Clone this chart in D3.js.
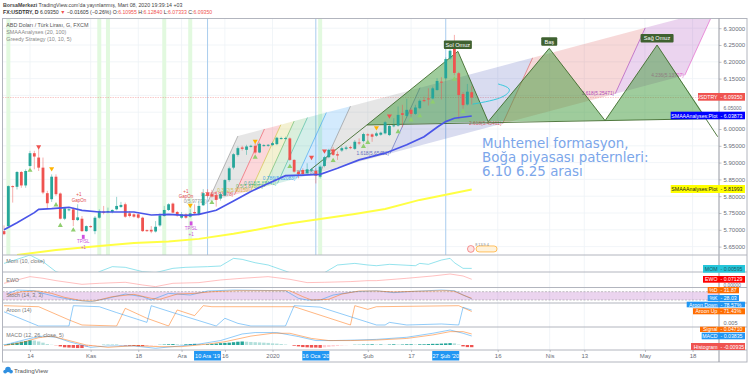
<!DOCTYPE html>
<html>
<head>
<meta charset="utf-8">
<script src="https://cdn.jsdelivr.net/npm/d3@7"></script>
<style>
  html, body { margin: 0; padding: 0; background: #fff; }
  svg { display: block; font-family: "Liberation Sans", sans-serif; }
</style>
</head>
<body>
<div id="chart"></div>
<script>
// Candles, one per trading day
const opens = [5.696,5.711,5.830,5.828,5.872,5.832,5.890,5.928,5.915,5.885,5.809,5.791,5.858,5.808,5.733,5.758,5.761,5.729,5.733,5.696,5.711,5.696,5.736,5.754,5.753,5.753,5.761,5.768,5.776,5.749,5.746,5.746,5.736,5.699,5.700,5.695,5.713,5.741,5.759,5.778,5.753,5.736,5.746,5.739,5.753,5.746,5.773,5.811,5.806,5.803,5.793,5.802,5.848,5.885,5.923,5.945,5.938,5.948,5.950,5.930,5.950,5.950,5.952,5.955,5.971,5.971,5.972,5.908,5.873,5.878,5.868,5.876,5.875,5.858,5.890,5.916,5.938,5.925,5.936,5.941,5.946,5.941,5.960,5.964,5.984,5.984,5.980,5.983,5.987,5.982,6.009,6.010,6.047,6.039,6.057,6.045,6.062,6.086,6.091,6.091,6.116,6.141,6.151,6.210,6.256,6.166,6.104,6.073,6.10955];
const closes = [5.687,5.830,5.828,5.872,5.832,5.875,5.928,5.918,5.885,5.811,5.779,5.858,5.806,5.733,5.764,5.761,5.729,5.737,5.696,5.711,5.708,5.736,5.756,5.751,5.756,5.759,5.771,5.774,5.739,5.741,5.739,5.736,5.696,5.696,5.695,5.709,5.743,5.759,5.776,5.751,5.743,5.746,5.736,5.749,5.749,5.771,5.809,5.801,5.799,5.789,5.806,5.848,5.883,5.925,5.943,5.941,5.948,5.950,5.930,5.956,5.952,5.953,5.958,5.974,5.973,5.973,5.908,5.873,5.866,5.866,5.880,5.880,5.861,5.888,5.916,5.938,5.923,5.921,5.943,5.945,5.943,5.962,5.957,5.985,5.981,5.977,5.987,5.989,6.020,6.009,6.011,6.042,6.042,6.057,6.045,6.064,6.084,6.083,6.089,6.121,6.143,6.139,6.208,6.233,6.167,6.101,6.071,6.111,6.0935];
const highs = [5.713,5.832,5.832,5.875,5.875,5.880,5.935,5.935,5.940,5.915,5.816,5.865,5.865,5.811,5.768,5.766,5.766,5.776,5.741,5.713,5.713,5.741,5.761,5.771,5.766,5.761,5.798,5.783,5.781,5.756,5.749,5.749,5.739,5.701,5.711,5.726,5.749,5.771,5.779,5.781,5.756,5.753,5.749,5.761,5.776,5.786,5.821,5.821,5.819,5.815,5.812,5.851,5.888,5.928,5.948,5.950,5.953,5.953,5.958,5.960,5.955,5.955,5.962,5.977,5.977,5.977,5.975,5.910,5.878,5.883,5.898,5.883,5.883,5.892,5.920,5.941,5.946,5.933,5.948,5.950,5.950,5.967,5.972,5.989,5.987,5.987,5.992,5.992,6.024,6.012,6.032,6.067,6.072,6.090,6.062,6.072,6.088,6.096,6.121,6.126,6.151,6.154,6.213,6.237,6.280,6.170,6.110,6.134,6.1284];
const lows = [5.684,5.706,5.781,5.820,5.825,5.825,5.885,5.880,5.875,5.806,5.763,5.783,5.801,5.731,5.729,5.755,5.711,5.726,5.694,5.694,5.706,5.687,5.733,5.746,5.749,5.749,5.758,5.765,5.736,5.737,5.736,5.733,5.694,5.694,5.690,5.692,5.709,5.739,5.756,5.749,5.739,5.733,5.733,5.736,5.746,5.743,5.771,5.796,5.796,5.769,5.787,5.800,5.843,5.880,5.918,5.936,5.923,5.945,5.926,5.928,5.948,5.947,5.949,5.952,5.969,5.969,5.905,5.870,5.853,5.863,5.863,5.873,5.838,5.853,5.886,5.913,5.920,5.908,5.932,5.937,5.940,5.938,5.953,5.960,5.967,5.962,5.977,5.980,5.984,5.979,6.005,6.007,6.005,6.035,6.037,6.042,6.059,6.080,6.070,6.088,6.114,6.088,6.148,6.206,6.160,6.030,6.060,6.070,6.07333];

// Moving averages, read at these bars
const smaFastBars = [0,3,7,8,11,15,18,22,26,30,34,38,42,45,49,53,57,61,65,69,73,77,82,88,93,97,100,102,104,108];
const smaFastVals = [5.700,5.721,5.751,5.761,5.763,5.767,5.758,5.753,5.753,5.753,5.744,5.746,5.743,5.746,5.758,5.786,5.814,5.838,5.861,5.863,5.865,5.883,5.908,5.928,5.953,5.977,6.005,6.022,6.032,6.03873];
const smaSlowBars = [3,12,17,22,30,38,45,53,57,65,73,81,88,96,108];
const smaSlowVals = [5.625,5.640,5.646,5.652,5.661,5.665,5.673,5.688,5.697,5.717,5.732,5.747,5.762,5.789,5.81993];

// Strategy markers
const upBars = [6,12,13,16,48,58,66,76,83,84,91,94,96,99,104,106];
const upPrices = [5.877,5.774,5.713,5.699,5.781,5.916,5.888,5.906,5.948,5.960,5.992,6.027,6.039,6.080,6.148,6.052];
const yellowBars = [11,43,58,86];
const yellowPrices = [5.882,5.773,5.964,6.004];
const redBars = [8,71,74,76,89];
const redPrices = [5.947,5.916,5.935,5.935,6.039];
const tagBars = [17.3,17.3,42,42,18.3,18.3,43.2,43.2];
const tagPrices = [5.786,5.804,5.798,5.815,5.664,5.646,5.704,5.687];
const tagTexts = ["GapOn","+1","GapOn","+1","TP/SL","+1","TP/SL","+1"];
const exitBars = [18.3,43.2];
const exitPrices = [5.679,5.719];

// Highlighted days
const greenBars = [1,22,24,37,43,73];
const selectedBars = [47,72,102];
const selectedLabels = ["10 Ara '19","16 Oca '20","27 Şub '20"];

// Fib channel drawing, anchored on bar / price
const fibStart = [54, 5.979];
const fibEnd = [80, 6.068];
const fibShift = [-6.93, -0.196];
const fibLevels = [0,0.236,0.382,0.5,0.618,0.786,1,1.618,2.618,3.618,4.236];
const fibPrices = ["5.97796","5.93078","5.90159","5.87800","5.85441","5.82083","5.77805","5.65451","5.45461","5.25471","5.13707"];
const fibColors = ["#808080","#f23645","#c9b81e","#4caf50","#26b08f","#2196f3","#808080","#3f51b5","#d84343","#9c27b0","#e040c0"];

// Head and shoulders drawing
const hsBars = [70.7,83.8,104.8,111.8,125.9,138.8,150.8,164.8];
const hsPrices = [5.878,6.012,6.231,6.022,6.240,6.025,6.25,5.977];
const hsNames = ["Sol Omuz","Baş","Sağ Omuz"];
const hsFootBar = 162.3;

// Hand drawn curve
const curveBars = [108.2,112.2,115.7,117.5,114.1];
const curvePrices = [6.074,6.083,6.096,6.121,6.134];

// Axis ticks
const priceTicks = [6.30,6.25,6.20,6.15,6.10,6.05,6.00,5.95,5.90,5.85,5.80,5.75,5.70,5.65];
const timeBars = [6,20,31,41,51,62,84,94,114,126,134,148,159];
const timeLabels = ["14","Kas","18","Ara","16","2020","Şub","17","16","Nis","13","May","18"];

// Momentum
const momBars = [0,3,6,9,12,14,21,22,25,28,32,35,39,42,47,50,53,55,58,61,66,68,73,74,77,81,84,86,89,95,96,98,101,103,104,106,108];
const momVals = [0.09,0.157,0.229,0.118,-0.049,-0.09,-0.09,-0.049,0.035,0.024,-0.049,-0.065,0.007,0.024,0.035,0.046,0.174,0.157,0.101,0.063,-0.065,-0.09,-0.09,-0.065,0.063,0.09,0.063,0.051,0.074,0.051,0.09,0.074,0.146,0.174,0.101,0.007,0.00595];

// Elliott wave oscillator
const ewoBars = [0,3,6,9,12,18,22,28,32,35,39,45,50,55,61,66,70,74,80,84,86,93,99,103,106,108];
const ewoVals = [0,0.059,0.118,0.089,0.047,-0.018,0,0.018,-0.030,-0.059,0,0.012,0.059,0.089,0.118,0.071,0.012,0.018,0.030,0.047,0.047,0.089,0.130,0.165,0.130,0.07129];

// Stochastic
const kBars = [1,3,7,9,12,16,20,24,28,32,34,38,43,47,53,65,68,70,73,76,81,86,90,93,101,104,106,108];
const kVals = [68,92,87,68,44,20,8,32,63,44,20,68,56,85,92,87,32,20,20,56,80,87,73,80,92,87,56,28.03];
const dBars = [1,4,8,11,14,18,21,25,30,34,36,40,44,48,54,66,69,71,75,78,82,86,90,95,102,104,106,108];
const dVals = [56,80,85,68,39,15,13,44,61,32,25,63,68,80,87,87,44,20,25,63,85,85,78,83,87,83,56,31.87];

// Aroon
const aroonUpBars = [0,8,15,18,26,28,33,38,40,44,46,48,67,80,81,84,86,105,108];
const aroonUpVals = [100,95,30,5,0,87,38,0,79,51,100,95,95,5,100,82,95,100,71.43];
const aroonDownBars = [0,8,15,16,22,26,33,34,39,49,51,54,57,65,67,73,86,88,89,93,101,105,106,108];
const aroonDownVals = [70,0,0,100,95,66,18,100,66,0,38,13,0,0,100,93,5,5,18,5,10,5,92,78.57];

// MACD
const macdBars = [0,3,6,9,12,15,20,24,30,35,39,45,50,55,58,63,68,72,76,81,86,93,99,103,106,108];
const macdVals = [0,0.014,0.028,0.038,0.033,0.014,-0.01,-0.004,-0.004,-0.014,-0.007,0.004,0.019,0.047,0.053,0.053,0.036,0.019,0.019,0.021,0.024,0.033,0.05,0.064,0.05,0.03835];
const signalBars = [0,4,8,11,14,19,24,30,36,41,47,51,57,62,66,71,75,80,86,93,99,103,106,108];
const signalVals = [-0.003,0.01,0.031,0.038,0.024,0,-0.01,-0.003,-0.007,-0.007,0.004,0.014,0.038,0.05,0.05,0.028,0.019,0.019,0.021,0.028,0.043,0.057,0.057,0.0471];
const histVals = [0.001,0.004,0.007,0.010,0.014,0.017,0.020,0.019,0.015,0.010,0.004,0.001,-0.001,-0.006,-0.010,-0.011,-0.012,-0.013,-0.013,-0.008,-0.005,-0.002,-0.001,0.001,0.001,0.001,0.001,-0.001,-0.002,-0.003,-0.004,-0.005,-0.005,-0.004,-0.002,-0.001,0.001,0.002,0.003,0.004,0.003,0.002,0.003,0.004,0.005,0.004,0.002,0.003,0.004,0.006,0.008,0.009,0.010,0.012,0.014,0.015,0.014,0.013,0.012,0.011,0.010,0.009,0.007,0.006,0.004,0.002,0,-0.003,-0.006,-0.009,-0.010,-0.011,-0.011,-0.012,-0.010,-0.008,-0.006,-0.004,-0.002,-0.001,0,0.001,0.001,0.002,0.002,0.003,0.002,0.002,0.001,0.002,0.003,0.002,0.002,0.003,0.003,0.002,0.003,0.003,0.004,0.005,0.005,0.006,0.007,0.008,0.007,0.002,-0.006,-0.009,-0.00935];

const width = 750, height = 378;
const left = 2.5, plotRight = 719, outerRight = 747, frameTop = 18.5, frameBottom = 362;

const svg = d3.select("#chart").append("svg")
    .attr("width", width)
    .attr("height", height);

const x = d3.scaleLinear().domain([-0.35, 165.1]).range([left, plotRight]);
const yMain = d3.scaleLinear().domain([6, 5.65]).range([129, 246.6]);

// Pane bands and their scales
const panes = {
  main: [frameTop, 255],
  mom: [255, 272],
  ewo: [272, 287.5],
  stoch: [287.5, 303],
  aroon: [304, 327],
  macd: [327, 350]
};
const yMom = d3.scaleLinear().domain([0.00595, 0.19]).range([268.4, 257.4]);
const yEwo = d3.scaleLinear().domain([0, 0.165]).range([283.3, 274]);
const yStoch = d3.scaleLinear().domain([20, 80]).range([300, 291.7]);
const yAroon = d3.scaleLinear().domain([0, 100]).range([326, 305.7]);
const yMacd = d3.scaleLinear().domain([0, 0.064]).range([345, 330]);

const defs = svg.append("defs");
Object.keys(panes).forEach(function(k) {
  defs.append("clipPath").attr("id", "clip-" + k)
    .append("rect")
      .attr("x", left)
      .attr("y", panes[k][0])
      .attr("width", plotRight - left)
      .attr("height", panes[k][1] - panes[k][0]);
});

const pane = k => svg.append("g").attr("clip-path", `url(#clip-${k})`);

// Vertical grid, all panes
svg.append("g")
  .selectAll("line")
  .data(timeBars)
  .join("line")
    .attr("x1", d => x(d)).attr("x2", d => x(d))
    .attr("y1", frameTop).attr("y2", 350)
    .attr("stroke", "#edf2f6").attr("stroke-width", 0.8);

svg.append("g")
  .selectAll("line")
  .data(priceTicks)
  .join("line")
    .attr("x1", left).attr("x2", plotRight)
    .attr("y1", d => yMain(d)).attr("y2", d => yMain(d))
    .attr("stroke", "#edf2f6").attr("stroke-width", 0.8);

const main = pane("main");

// Green signal columns and selected day lines
main.append("g")
  .selectAll("rect")
  .data(greenBars)
  .join("rect")
    .attr("x", d => x(d) - 2)
    .attr("y", frameTop)
    .attr("width", 4)
    .attr("height", 255 - frameTop)
    .attr("fill", "#e2f9df");

main.append("g")
  .selectAll("line")
  .data(selectedBars)
  .join("line")
    .attr("x1", d => x(d)).attr("x2", d => x(d))
    .attr("y1", frameTop).attr("y2", 255)
    .attr("stroke", "#a9cdee").attr("stroke-width", 1);

// Last price line
main.append("line")
    .attr("x1", left).attr("x2", plotRight)
    .attr("y1", yMain(closes[108])).attr("y2", yMain(closes[108]))
    .attr("stroke", "#ef5350").attr("stroke-width", 0.6)
    .attr("stroke-dasharray", "1.5 1").attr("opacity", 0.55);

// Fib channel
const fibTop = l => [fibStart[0] + l * (fibEnd[0] - fibStart[0]), fibStart[1] + l * (fibEnd[1] - fibStart[1])];
const fibBottom = l => { const t = fibTop(l); return [t[0] + fibShift[0], t[1] + fibShift[1]]; };
const px = p => [x(p[0]), yMain(p[1])];

const fibGroup = main.append("g");
fibLevels.slice(0, -1).forEach(function(l, i) {
  const next = fibLevels[i + 1];
  fibGroup.append("polygon")
    .attr("points", [fibBottom(l), fibTop(l), fibTop(next), fibBottom(next)].map(px).map(p => p.join(",")).join(" "))
    .attr("fill", fibColors[i])
    .attr("opacity", 0.2);
});
fibLevels.forEach(function(l, i) {
  const a = px(fibBottom(l)), b = px(fibTop(l));
  fibGroup.append("line")
    .attr("x1", a[0]).attr("y1", a[1])
    .attr("x2", b[0]).attr("y2", b[1])
    .attr("stroke", fibColors[i])
    .attr("stroke-width", 0.7)
    .attr("opacity", 0.75);
  fibGroup.append("text")
    .attr("x", a[0] - 1)
    .attr("y", a[1] + 1.5)
    .attr("text-anchor", "end")
    .attr("font-size", 4.8)
    .attr("fill", fibColors[i])
    .attr("opacity", 0.8)
    .text(`${l}(${fibPrices[i]})`);
});

// Head and shoulders
const hs = hsBars.map((b, i) => [x(b), yMain(hsPrices[i])]);
const baseAt = function(xx) {
  const t = (xx - hs[1][0]) / (hs[5][0] - hs[1][0]);
  return hs[1][1] + t * (hs[5][1] - hs[1][1]);
};
const rightFoot = [x(hsFootBar), baseAt(x(hsFootBar))];
[[hs[1], hs[2], hs[3]], [hs[3], hs[4], hs[5]], [hs[5], hs[6], rightFoot]].forEach(function(tri) {
  main.append("polygon")
    .attr("points", tri.map(p => p.join(",")).join(" "))
    .attr("fill", "#3f9a3a")
    .attr("opacity", 0.5);
});
main.append("path")
    .attr("d", d3.line()(hs))
    .attr("fill", "none")
    .attr("stroke", "#3f6b2c")
    .attr("stroke-width", 0.9);
main.append("line")
    .attr("x1", hs[1][0]).attr("y1", hs[1][1])
    .attr("x2", rightFoot[0]).attr("y2", rightFoot[1])
    .attr("stroke", "#3f6b2c")
    .attr("stroke-width", 0.9);

// Hand drawn curve
main.append("path")
    .attr("d", d3.line().x((d, i) => x(d)).y((d, i) => yMain(curvePrices[i])).curve(d3.curveBasis)(curveBars))
    .attr("fill", "none")
    .attr("stroke", "#26c6da")
    .attr("stroke-width", 0.9);

// Slow average sits behind the candles
const sampled = (bars, vals, y) => d3.line().x(d => x(d)).y((d, i) => y(vals[i]))(bars);
main.append("path")
    .attr("d", sampled(smaSlowBars, smaSlowVals, yMain))
    .attr("fill", "none")
    .attr("stroke", "#ffff44")
    .attr("stroke-width", 2);

// Candles
const barIdx = d3.range(opens.length);
const candleColor = i => closes[i] >= opens[i] ? "#26a69a" : "#ef5350";

main.append("g")
  .selectAll("line")
  .data(barIdx)
  .join("line")
    .attr("x1", d => x(d)).attr("x2", d => x(d))
    .attr("y1", d => yMain(highs[d])).attr("y2", d => yMain(lows[d]))
    .attr("stroke", candleColor)
    .attr("stroke-width", 0.9)
    .attr("opacity", 0.5);

main.append("g")
  .selectAll("rect")
  .data(barIdx)
  .join("rect")
    .attr("x", d => x(d) - 1.4)
    .attr("y", d => Math.min(yMain(opens[d]), yMain(closes[d])))
    .attr("width", 2.8)
    .attr("height", d => Math.max(1, Math.abs(yMain(opens[d]) - yMain(closes[d]))))
    .attr("fill", candleColor);

main.append("path")
    .attr("d", sampled(smaFastBars, smaFastVals, yMain))
    .attr("fill", "none")
    .attr("stroke", "#4a55e8")
    .attr("stroke-width", 1.7);

// Markers
const tri = d3.symbol().type(d3.symbolTriangle).size(11);
const addMarkers = function(bars, prices, color, flip) {
  main.append("g")
    .selectAll("path")
    .data(bars)
    .join("path")
      .attr("d", tri)
      .attr("transform", (d, i) => `translate(${x(d)},${yMain(prices[i])})${flip ? " rotate(180)" : ""}`)
      .attr("fill", color);
};
addMarkers(upBars, upPrices, "#8fce6f", false);
addMarkers(yellowBars, yellowPrices, "#ffb300", true);
addMarkers(redBars, redPrices, "#ef5350", true);

// Strategy texts
main.append("g")
    .attr("font-size", 4.5)
    .attr("text-anchor", "middle")
  .selectAll("text")
  .data(tagTexts)
  .join("text")
    .attr("x", (d, i) => x(tagBars[i]))
    .attr("y", (d, i) => yMain(tagPrices[i]) + 1.5)
    .attr("fill", (d, i) => i < 4 ? "#e24a4a" : "#c850d8")
    .text(d => d);
main.append("g")
  .selectAll("rect")
  .data(exitBars)
  .join("rect")
    .attr("x", d => x(d) - 1.4)
    .attr("y", (d, i) => yMain(exitPrices[i]) - 2)
    .attr("width", 2.8).attr("height", 4)
    .attr("fill", "#d050e0");

// Pattern name tags
[[hs[2], hsNames[0], 28], [hs[4], hsNames[1], 16], [hs[6], hsNames[2], 33]].forEach(function(t) {
  main.append("rect")
    .attr("x", t[0][0] - t[2] / 2).attr("y", t[0][1] - 11)
    .attr("width", t[2]).attr("height", 8.5)
    .attr("rx", 1)
    .attr("fill", "#3f6130");
  main.append("text")
    .attr("x", t[0][0])
    .attr("y", t[0][1] - 4.7)
    .attr("text-anchor", "middle")
    .attr("font-size", 5.6)
    .attr("fill", "#fff")
    .text(t[1]);
});

// Event badges under the last bars
main.append("circle")
    .attr("cx", x(107.8)).attr("cy", yMain(5.643)).attr("r", 3.4)
    .attr("fill", "#fde4e4").attr("stroke", "#ef5350").attr("stroke-width", 0.6);
main.append("rect")
    .attr("x", x(109)).attr("y", yMain(5.643) - 3).attr("width", 21).attr("height", 6).attr("rx", 3)
    .attr("fill", "#fff3dc").attr("stroke", "#ff9800").attr("stroke-width", 0.6);
main.append("text")
    .attr("x", x(108.8)).attr("y", yMain(5.643) - 3.4)
    .attr("font-size", 3.8).attr("fill", "#888")
    .text("8  13.9  4");

// Note
const note = ["Muhtemel formasyon,", "Boğa piyasası paternleri:", "6.10 6.25 arası"];
svg.append("g")
    .attr("font-family", "'DejaVu Sans', sans-serif")
    .attr("font-size", 13.4)
    .attr("fill", "#7ba6ea")
  .selectAll("text")
  .data(note)
  .join("text")
    .attr("x", 482)
    .attr("y", (d, i) => 147.5 + i * 14)
    .text(d => d);

// Lower panes
const addLine = function(k, bars, vals, y, color) {
  pane(k).append("path")
    .attr("d", sampled(bars, vals, y))
    .attr("fill", "none")
    .attr("stroke", color)
    .attr("stroke-width", 0.9)
    .attr("opacity", 0.55);
};
addLine("mom", momBars, momVals, yMom, "#26c6da");
addLine("ewo", ewoBars, ewoVals, yEwo, "#ff7f7f");

svg.append("rect")
    .attr("x", left).attr("width", plotRight - left)
    .attr("y", yStoch(80)).attr("height", yStoch(20) - yStoch(80))
    .attr("fill", "#9c27b0").attr("opacity", 0.2);
[80, 20].forEach(function(v) {
  svg.append("line")
    .attr("x1", left).attr("x2", plotRight)
    .attr("y1", yStoch(v)).attr("y2", yStoch(v))
    .attr("stroke", "#888").attr("stroke-width", 0.5)
    .attr("stroke-dasharray", "2 1.5");
});
addLine("stoch", kBars, kVals, yStoch, "#2196f3");
addLine("stoch", dBars, dVals, yStoch, "#ff6d00");
addLine("aroon", aroonUpBars, aroonUpVals, yAroon, "#ff6d00");
addLine("aroon", aroonDownBars, aroonDownVals, yAroon, "#2196f3");

const histColor = function(d, i) {
  const prev = i > 0 ? histVals[i - 1] : 0;
  if (d >= 0) return d >= prev ? "#26a69a" : "#b2dfdb";
  return d <= prev ? "#ef5350" : "#ffcdd2";
};
pane("macd").append("g")
  .selectAll("rect")
  .data(histVals)
  .join("rect")
    .attr("x", (d, i) => x(i) - 1.7)
    .attr("y", d => Math.min(yMacd(d), yMacd(0)))
    .attr("width", 3.4)
    .attr("height", d => Math.abs(yMacd(d) - yMacd(0)))
    .attr("fill", histColor);
addLine("macd", macdBars, macdVals, yMacd, "#2196f3");
addLine("macd", signalBars, signalVals, yMacd, "#ff6d00");

// Frame and pane separators
const frameColor = "#b2b5be";
svg.append("rect")
    .attr("x", left).attr("y", frameTop)
    .attr("width", outerRight - left).attr("height", frameBottom - frameTop)
    .attr("fill", "none").attr("stroke", frameColor);
svg.append("line")
    .attr("x1", plotRight).attr("x2", plotRight)
    .attr("y1", frameTop).attr("y2", frameBottom)
    .attr("stroke", "#9598a1");
svg.append("g")
  .selectAll("line")
  .data([255, 272, 287.5, 303, 327, 350])
  .join("line")
    .attr("x1", left).attr("x2", outerRight)
    .attr("y1", d => d).attr("y2", d => d)
    .attr("stroke", frameColor);

// Axes. The 6.10 label is fully covered by the USDTRY tag in the original
const priceAxis = svg.append("g")
    .attr("transform", `translate(${plotRight},0)`)
    .call(d3.axisRight(yMain).tickValues(priceTicks).tickFormat(d => d === 6.10 ? "" : d3.format(".5f")(d)).tickSize(2.5).tickPadding(2));
const timeAxis = svg.append("g")
    .attr("transform", "translate(0,350)")
    .call(d3.axisBottom(x).tickValues(timeBars).tickFormat((d, i) => timeLabels[i]).tickSize(2).tickPadding(1.5));
[priceAxis, timeAxis].forEach(function(a) {
  a.select(".domain").remove();
  a.selectAll("line").attr("stroke", "#9598a1").attr("stroke-width", 0.6);
  a.selectAll("text").attr("fill", "#6a6d78").attr("font-size", 6).attr("font-family", "'Liberation Sans', sans-serif");
});
// 6.05 sits just above the plot tag
priceAxis.selectAll("text").filter(d => d === 6.05).attr("y", -4.5).attr("font-size", 5);

[[286.6, "0.00000", 4.8], [325.3, "0.005", 5.6]].forEach(function(t) {
  svg.append("text")
    .attr("x", 723.5).attr("y", t[0])
    .attr("font-size", t[2]).attr("fill", "#6a6d78")
    .text(t[1]);
});

// Selected day tags on the time axis
selectedBars.forEach(function(b, i) {
  svg.append("rect")
    .attr("x", x(b) - 13.5).attr("y", 351)
    .attr("width", 27).attr("height", 9.5)
    .attr("fill", "#2196f3");
  svg.append("text")
    .attr("x", x(b)).attr("y", 358)
    .attr("text-anchor", "middle")
    .attr("font-size", 5.6).attr("fill", "#fff")
    .text(selectedLabels[i]);
});

// Value tags on the price axis
const tag = function(y0, y1, x0, x1, name, value, fill, color) {
  svg.append("rect")
    .attr("x", x0).attr("y", y0)
    .attr("width", x1 - x0).attr("height", y1 - y0)
    .attr("fill", fill);
  svg.append("text")
    .attr("x", 717.5).attr("y", (y0 + y1) / 2 + 2)
    .attr("text-anchor", "end")
    .attr("font-size", 5.2).attr("fill", color)
    .text(name);
  svg.append("text")
    .attr("x", 720.5).attr("y", (y0 + y1) / 2 + 2)
    .attr("font-size", 5.2).attr("fill", color)
    .text("- " + value);
};
tag(93, 100.7, 698, 745, "USDTRY", "6.09350", "#ef5350", "#fff");
tag(111.7, 119.3, 670.7, 745, "SMAAAnalyses:Plot", "6.03873", "#0000ff", "#fff");
tag(185, 193, 670.7, 745, "SMAAAnalyses:Plot", "5.81993", "#ffff00", "#222");
tag(265, 272.7, 703, 745, "MOM", "0.00595", "#26c6da", "#1c5a63");
tag(276, 282.7, 703, 745, "EWO", "0.07129", "#ff0000", "#fff");
tag(287, 293.3, 707.7, 739, "%D", "31.87", "#ff6d00", "#fff");
tag(295, 301, 707.7, 739, "%K", "28.03", "#2196f3", "#fff");
tag(301.7, 307.3, 686.7, 745, "Aroon Down", "78.57%", "#2196f3", "#fff");
tag(308.3, 314.3, 693, 745, "Aroon Up", "71.43%", "#ff6d00", "#fff");
tag(326.7, 332, 700, 745, "Signal", "0.04710", "#ff6d00", "#fff");
tag(332.7, 339.3, 701.7, 745, "MACD", "0.03835", "#2196f3", "#fff");
tag(343, 350, 691, 745, "Histogram", "-0.00935", "#ef5350", "#fff");

// Pane legends
const legendRows = [
  [25.5, "ABD Doları / Türk Lirası, G, FXCM", "#555"],
  [32.5, "SMAAAnalyses (20, 100)", "#888"],
  [39.5, "Greedy Strategy (10, 10, 5)", "#888"],
  [261.5, "Mom (10, close)", "#777"],
  [280, "EWO", "#777"],
  [295, "Stoch (14, 3, 3)", "#777"],
  [310, "Aroon (14)", "#777"],
  [335, "MACD (12, 26, close, 5)", "#777"]
];
svg.append("g")
    .attr("font-size", 5.4)
  .selectAll("text")
  .data(legendRows)
  .join("text")
    .attr("x", 6.2)
    .attr("y", d => d[0] + 1.8)
    .attr("fill", d => d[2])
    .text(d => d[1]);

// Header
const head1 = svg.append("text").attr("x", 3).attr("y", 7).attr("font-size", 5.25).attr("fill", "#444");
head1.append("tspan").attr("font-weight", "bold").text("BorsaMerkezi");
head1.append("tspan").text(" TradingView.com'da yayınlanmış, Mart 08, 2020 19:39:14 +03");

const head2 = svg.append("text").attr("x", 3).attr("y", 14).attr("font-size", 5.2).attr("fill", "#333");
head2.append("tspan").attr("font-weight", "bold").text("FX:USDTRY, D ");
head2.append("tspan").text("6.09350 ");
head2.append("tspan").attr("fill", "#ef5350").text("▼ ");
head2.append("tspan").text("−0.01605 (−0.26%) ");
[["O:", "6.10955"], ["H:", "6.12840"], ["L:", "6.07333"], ["C:", "6.09350"]].forEach(function(p) {
  head2.append("tspan").text(p[0]);
  head2.append("tspan").attr("fill", "#ef5350").text(p[1] + " ");
});

// TradingView footer mark
const logo = svg.append("g").attr("fill", "#2f8fe0");
logo.append("circle").attr("cx", 8).attr("cy", 369.5).attr("r", 2.8);
logo.append("circle").attr("cx", 5.2).attr("cy", 371.6).attr("r", 1.9);
logo.append("circle").attr("cx", 11).attr("cy", 371.6).attr("r", 1.9);
svg.append("text")
    .attr("x", 14).attr("y", 372.5)
    .attr("font-size", 6.2).attr("fill", "#555")
    .text("TradingView");
</script>
</body>
</html>
